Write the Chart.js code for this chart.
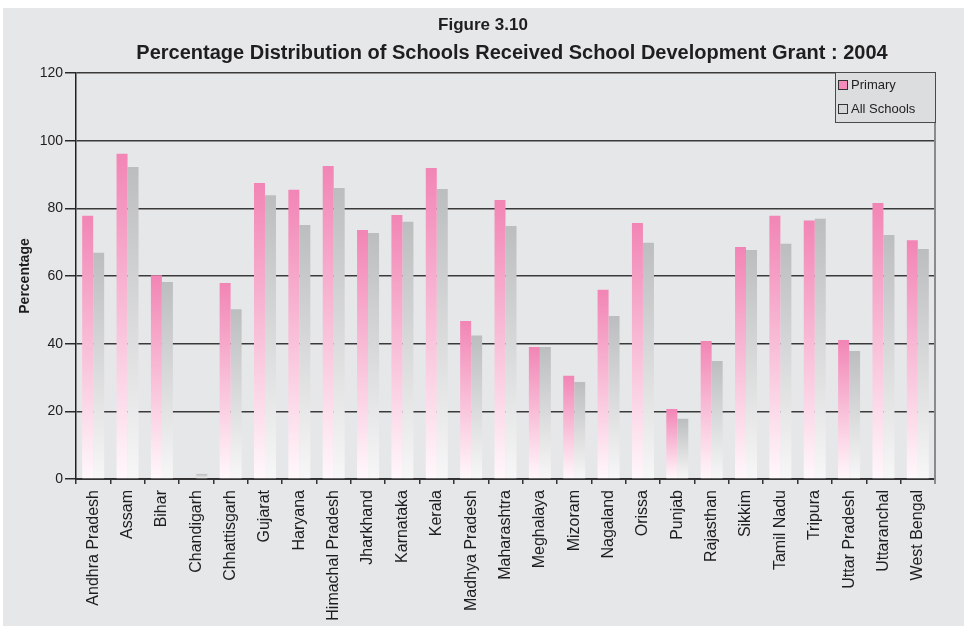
<!DOCTYPE html>
<html>
<head>
<meta charset="utf-8">
<script src="https://cdn.jsdelivr.net/npm/chart.js@4/dist/chart.umd.min.js"></script>
<style>
  html, body { margin: 0; padding: 0; background: #ffffff; }
  #wrap { width: 964px; height: 626px; position: relative; }
  canvas { display: block; }
</style>
</head>
<body>
<div id="wrap"><canvas id="c" width="964" height="626"></canvas></div>
<script>
// States / UTs along the x axis
const states = [
  "Andhra Pradesh", "Assam", "Bihar", "Chandigarh", "Chhattisgarh", "Gujarat",
  "Haryana", "Himachal Pradesh", "Jharkhand", "Karnataka", "Kerala",
  "Madhya Pradesh", "Maharashtra", "Meghalaya", "Mizoram", "Nagaland", "Orissa",
  "Punjab", "Rajasthan", "Sikkim", "Tamil Nadu", "Tripura", "Uttar Pradesh",
  "Uttaranchal", "West Bengal"
];

// Percentage of primary schools that received the grant
const primary = [
  77.8, 96.1, 60.2, 0, 57.9, 87.5,
  85.5, 92.5, 73.6, 78.0, 91.9,
  46.7, 82.5, 39.0, 30.5, 55.9, 75.7,
  20.7, 40.8, 68.6, 77.8, 76.4, 41.1,
  81.6, 70.6
];

// Percentage of all schools that received the grant
const allSchools = [
  66.9, 92.2, 58.2, 1.5, 50.2, 83.9,
  75.1, 86.0, 72.7, 76.0, 85.7,
  42.4, 74.8, 39.0, 28.7, 48.2, 69.8,
  17.8, 34.9, 67.7, 69.5, 76.9, 37.8,
  72.1, 68.0
];

const yTicks = [0, 20, 40, 60, 80, 100, 120];

const seriesNames = ["Primary", "All Schools"];

const figureLabel = "Figure 3.10";
const chartTitle = "Percentage Distribution of Schools Received School Development Grant : 2004";

const FONT = '"Liberation Sans", Arial, sans-serif';

// Vertical fade from the bar's top colour down to white at the baseline
function barFade(top, bottom) {
  return (ctx) => {
    const chart = ctx.chart;
    const area = chart.chartArea;
    const y = chart.scales && chart.scales.y;
    if (!area || !y || ctx.raw === undefined) return top;
    const yTop = y.getPixelForValue(ctx.raw);
    const yBase = y.getPixelForValue(0);
    if (!(yBase - yTop > 0.5)) return top;
    const g = chart.ctx.createLinearGradient(0, yTop, 0, yBase);
    g.addColorStop(0, top);
    g.addColorStop(1, bottom);
    return g;
  };
}

// Grey page with a thin white margin at the top/left, plus the two heading lines
const pageBackground = {
  id: 'pageBackground',
  beforeDraw(chart) {
    const c = chart.ctx;
    c.save();
    c.fillStyle = '#ffffff';
    c.fillRect(0, 0, chart.width, chart.height);
    c.fillStyle = '#e6e7e9';
    c.fillRect(3, 8, chart.width - 3, chart.height - 8);

    c.fillStyle = '#1e1e1e';
    c.textAlign = 'center';
    c.textBaseline = 'middle';
    c.font = 'bold 17px ' + FONT;
    c.fillText(figureLabel, 483, 25);
    c.font = 'bold 20px ' + FONT;
    c.fillText(chartTitle, 512, 53);
    c.restore();
  }
};

// Right frame of the plot plus the boxed legend in the top right corner
const frameAndLegend = {
  id: 'frameAndLegend',
  afterDraw(chart, args, opts) {
    const c = chart.ctx;
    const a = chart.chartArea;
    c.save();
    c.strokeStyle = '#8a8b8d';
    c.lineWidth = 2;
    c.beginPath();
    c.moveTo(a.right, a.top - 1);
    c.lineTo(a.right, a.bottom + 5);
    c.stroke();

    const bx = 835, by = 72, bw = 100, bh = 50;
    c.fillStyle = '#dcdddf';
    c.fillRect(bx, by, bw, bh);
    c.strokeStyle = '#4a4a4a';
    c.lineWidth = 1;
    c.strokeRect(bx + 0.5, by + 0.5, bw, bh);

    c.font = '13px ' + FONT;
    c.textBaseline = 'middle';
    c.textAlign = 'left';
    chart.data.datasets.forEach((ds, i) => {
      const cy = by + 13 + i * 24;
      c.fillStyle = opts.swatches[i];
      c.fillRect(838.5, cy - 4.5, 9, 9);
      c.strokeStyle = '#333333';
      c.strokeRect(838.5, cy - 4.5, 9, 9);
      c.fillStyle = '#222222';
      c.fillText(ds.label, 851, cy + 0.5);
    });
    c.restore();
  }
};

new Chart(document.getElementById('c'), {
  type: 'bar',
  data: {
    labels: states,
    datasets: [
      {
        label: seriesNames[0],
        data: primary,
        backgroundColor: barFade('#f285b5', '#fff8fb'),
        borderWidth: 0
      },
      {
        label: seriesNames[1],
        data: allSchools,
        backgroundColor: barFade('#bcbdbf', '#f7f7f7'),
        borderWidth: 0
      }
    ]
  },
  plugins: [pageBackground, frameAndLegend],
  options: {
    responsive: false,
    animation: false,
    devicePixelRatio: 1,
    layout: { padding: { top: 73, left: 0, right: 29, bottom: 0 } },
    datasets: {
      bar: { categoryPercentage: 0.64, barPercentage: 1.0 }
    },
    plugins: {
      legend: { display: false },
      tooltip: { enabled: false },
      title: { display: false },
      frameAndLegend: { swatches: ['#f48bba', '#d6d7d9'] }
    },
    scales: {
      x: {
        afterFit(scale) { scale.height = 147; },
        grid: {
          offset: true,
          drawOnChartArea: false,
          drawTicks: true,
          tickLength: 5,
          tickColor: '#333333',
          lineWidth: 1.5
        },
        border: { display: true, color: '#333333', width: 2 },
        ticks: {
          autoSkip: false,
          maxRotation: 90,
          minRotation: 90,
          padding: 6,
          color: '#1e1e1e',
          font: { family: FONT, size: 16 }
        }
      },
      y: {
        min: 0,
        max: 120,
        afterFit(scale) { scale.width = 76; },
        afterBuildTicks(scale) { scale.ticks = yTicks.map(v => ({ value: v })); },
        grid: {
          color: '#3a3a3a',
          lineWidth: 1.5,
          drawTicks: true,
          tickLength: 11,
          tickColor: '#2a2a2a'
        },
        border: { display: true, color: '#222222', width: 1.5 },
        ticks: {
          padding: 2,
          color: '#1e1e1e',
          font: { family: FONT, size: 14 }
        },
        title: {
          display: true,
          text: 'Percentage',
          color: '#1e1e1e',
          font: { family: FONT, size: 14, weight: 'bold' },
          padding: { top: 17, bottom: 0 }
        }
      }
    }
  }
});
</script>
</body>
</html>
